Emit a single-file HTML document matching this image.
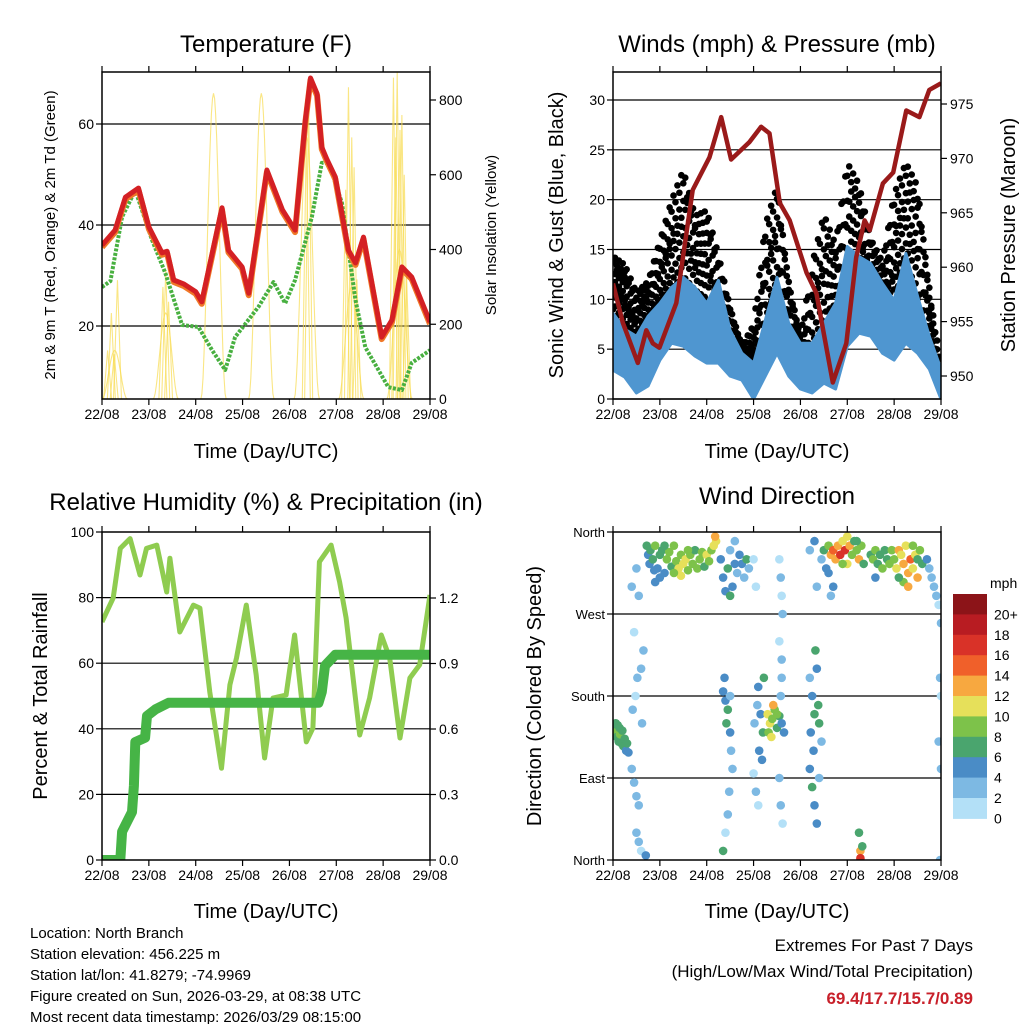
<!DOCTYPE html>
<html><head><meta charset="utf-8">
<style>
html,body{margin:0;padding:0;background:#fff;}
svg{display:block;font-family:"Liberation Sans",sans-serif;}
</style></head>
<body>
<svg id="svg" width="1024" height="1024" viewBox="0 0 1024 1024" xmlns="http://www.w3.org/2000/svg">
<rect width="1024" height="1024" fill="#fff"/>
<text x="266" y="52" font-size="24" text-anchor="middle">Temperature (F)</text>
<text x="777" y="52" font-size="24" text-anchor="middle">Winds (mph) &amp; Pressure (mb)</text>
<text x="266" y="510" font-size="24" text-anchor="middle">Relative Humidity (%) &amp; Precipitation (in)</text>
<text x="777" y="504" font-size="24" text-anchor="middle">Wind Direction</text>

<text x="266" y="458" font-size="20" text-anchor="middle">Time (Day/UTC)</text>
<text x="777" y="458" font-size="20" text-anchor="middle">Time (Day/UTC)</text>
<text x="266" y="918" font-size="20" text-anchor="middle">Time (Day/UTC)</text>
<text x="777" y="918" font-size="20" text-anchor="middle">Time (Day/UTC)</text>

<text transform="translate(55,235) rotate(-90)" font-size="15" text-anchor="middle">2m &amp; 9m T (Red, Orange) &amp; 2m Td (Green)</text>
<text transform="translate(496,235) rotate(-90)" font-size="15" text-anchor="middle">Solar Insolation (Yellow)</text>
<text transform="translate(563,235) rotate(-90)" font-size="20" text-anchor="middle">Sonic Wind &amp; Gust (Blue, Black)</text>
<text transform="translate(1015,235) rotate(-90)" font-size="20" text-anchor="middle">Station Pressure (Maroon)</text>
<text transform="translate(47,696) rotate(-90)" font-size="20" text-anchor="middle">Percent &amp; Total Rainfall</text>
<text transform="translate(541,696) rotate(-90)" font-size="20" text-anchor="middle">Direction (Colored By Speed)</text>

<g font-size="15">
<text x="30" y="938">Location: North Branch</text>
<text x="30" y="959">Station elevation: 456.225 m</text>
<text x="30" y="980">Station lat/lon: 41.8279; -74.9969</text>
<text x="30" y="1001">Figure created on Sun, 2026-03-29, at 08:38 UTC</text>
<text x="30" y="1022">Most recent data timestamp: 2026/03/29 08:15:00</text>
</g>
<g text-anchor="end">
<text x="973" y="951" font-size="17">Extremes For Past 7 Days</text>
<text x="973" y="977" font-size="17">(High/Low/Max Wind/Total Precipitation)</text>
<text x="973" y="1004" font-size="17" font-weight="bold" fill="#c8202a">69.4/17.7/15.7/0.89</text>
</g>
<g id="layer"></g>
</svg>
<script>
// ---------- DATA ----------
const dayLabels = ["22/08","23/08","24/08","25/08","26/08","27/08","28/08","29/08"];
const tempTicks = [20,40,60];
const solarTicks = [0,200,400,600,800];
const windTicks = [0,5,10,15,20,25,30];
const presTicks = [950,955,960,965,970,975];
const rhTicks = [0,20,40,60,80,100];
const precipTicks = [0.0,0.3,0.6,0.9,1.2];
const dirTickLabels = ["North","East","South","West","North"];
const speedLabels = ["20+","18","16","14","12","10","8","6","4","2","0"];
const speedColors = ["#8c1418","#b81c22","#d93228","#f0602a","#f7a840","#e6e05a","#7dc24a","#4aa56e","#4a8cc6","#7db9e3","#b3e0f7"];

const tempTimes = [0,0.28,0.5,0.78,1.0,1.28,1.39,1.53,1.75,2.0,2.13,2.56,2.7,2.99,3.13,3.52,3.85,4.12,4.34,4.45,4.59,4.69,4.8,4.98,5.26,5.41,5.58,5.97,6.19,6.4,6.61,7.0];
const tempValues = [36.0,39,45.5,47.3,39.6,34.5,34.8,29.1,28.3,26.8,24.8,43.4,35,31.7,26.5,50.9,43,39,60.8,69.1,66,55.4,53,49.5,35,32.5,37.6,17.8,21.2,31.7,29.7,20.8];
const dewTimes = [0,0.18,0.43,0.71,1.07,1.35,1.71,2.06,2.35,2.63,2.84,3.34,3.66,3.91,4.12,4.48,4.69,4.84,5.12,5.41,5.62,6.11,6.4,6.61,7.0];
const dewValues = [27.7,28.9,41.6,46.9,37,30.5,20.2,19.8,15.2,11.3,17.8,23.8,28.7,24.5,29.1,41.6,52.3,52.3,44.4,25.1,15.8,7.9,7.3,12.7,15.2];
const solarPeakTimes = [0.27,1.36,2.38,3.4,4.37,5.32,6.35];
const solarPeakValues = [130,230,818,818,700,300,400];
const solarSpikeTimes = [0.12,0.2,0.26,0.33,1.3,1.36,1.42,4.36,4.41,5.2,5.26,5.33,5.38,5.44,6.22,6.27,6.3,6.36,6.4,6.45,6.5];
const solarSpikeValues = [130,230,120,318,300,345,260,700,790,560,834,700,620,320,860,700,875,720,760,600,330];

const presTimes = [0,0.21,0.53,0.71,0.85,0.99,1.35,1.7,2.06,2.31,2.52,2.91,3.16,3.34,3.56,3.77,4.13,4.34,4.69,4.98,5.19,5.37,5.48,5.76,5.98,6.26,6.54,6.75,7.0];
const presValues = [958.5,954.9,951.2,954.2,953,952.6,956.7,967.1,970.1,973.8,969.9,971.5,972.9,972.3,965.9,964.3,959.5,957.6,949.4,953,960.9,964.3,963.4,967.7,968.7,974.4,973.8,976.3,976.9];
const windTimes = [0,0.25,0.5,0.75,1,1.25,1.5,1.75,2,2.25,2.5,2.75,3,3.25,3.5,3.75,4,4.25,4.5,4.75,5,5.25,5.5,5.75,6,6.25,6.5,6.75,7];
const windHigh = [8.6,7,6.3,8.3,9.6,11.2,12.2,11.2,9.6,11.9,6.9,4.6,3.6,7.9,12.2,7.6,5.6,5.6,7.6,9.6,15.3,14.3,13.6,11.6,9.9,14.6,10.3,6.3,3];
const windLow = [2.9,2.2,0.6,1.3,3.9,5.6,5.3,4.3,3.6,3.6,2.3,1.9,0,2.3,4.6,2.3,1,0.6,1.6,1,5.3,6.6,6.3,4.6,3.9,5.6,4.6,3,0];
const gustHigh = [14.9,14.2,11.2,12.2,16.6,21,24.3,19.3,20,15.3,9.6,5.6,7.9,18.6,22.6,12.2,6.6,14.6,19.9,16.3,25,22.6,16.6,14.2,21.6,25,22.6,11.2,3];
const gustLow = [9,7,6,8,9,10,11,10,9,7,5,3,3,7,10,6,3,4,6,8,12,12,11,10,11,12,10,6,0];

const rhTimes = [0,0.24,0.39,0.6,0.81,0.95,1.17,1.38,1.45,1.66,1.95,2.09,2.3,2.55,2.73,2.87,3.08,3.29,3.47,3.65,3.93,4.11,4.36,4.5,4.64,4.89,5.07,5.21,5.5,5.71,5.96,6.14,6.36,6.57,6.78,7.0];
const rhValues = [72.6,79.9,95,98,86.9,95,96,81.7,92,69.5,77.7,76.8,51.2,28,53.4,61.6,77.7,56.4,31.1,49.4,50.3,68.6,36,40.2,90.9,96,84.8,73.8,38.1,49.4,68.6,61.6,37.2,55.5,59.5,80.8];
const precipTimes = [0,0.39,0.43,0.64,0.68,0.71,0.92,0.96,1.14,1.42,4.62,4.69,4.76,4.98,7.0];
const precipValues = [0,0,0.13,0.22,0.34,0.54,0.56,0.66,0.69,0.72,0.72,0.77,0.89,0.94,0.94];

const dirT = [0.02,0.05,0.08,0.1,0.12,0.15,0.18,0.2,0.22,0.25,0.28,0.3,0.33,0.06,0.14,
0.4,0.45,0.5,0.55,0.42,0.48,0.52,0.6,0.65,0.45,0.5,0.55,0.6,0.7,0.62,0.4,0.5,0.55,
0.72,0.75,0.78,0.8,0.85,0.88,0.9,0.95,1.0,1.05,1.1,1.15,1.2,1.25,1.3,1.35,1.4,1.45,1.5,1.55,1.6,1.65,1.7,1.75,1.8,1.85,1.9,1.95,2.0,2.05,2.1,2.15,2.2,2.18,1.45,1.3,1.0,0.9,1.1,1.6,
2.3,2.35,2.4,2.45,2.5,2.55,2.6,2.65,2.7,2.75,2.8,2.85,2.9,2.5,2.6,
2.35,2.4,2.45,2.38,2.42,2.5,2.52,2.55,2.48,2.45,2.4,2.35,2.5,
3.0,3.05,3.1,3.02,3.08,3.1,3.15,3.2,3.12,3.0,3.05,3.18,3.22,
3.3,3.35,3.4,3.45,3.5,3.55,3.6,3.65,3.32,3.42,3.38,3.5,
3.55,3.58,3.6,3.62,3.55,3.6,3.58,3.6,3.55,3.62,3.58,
4.2,4.25,4.3,4.22,4.28,4.2,4.25,4.3,4.35,4.4,4.38,4.32,4.35,4.4,4.45,4.2,4.3,4.35,
4.45,4.5,4.55,4.6,4.65,4.7,4.75,4.8,4.85,4.9,4.95,5.0,5.05,5.1,5.15,5.2,5.25,5.3,5.35,4.6,4.7,4.65,5.0,4.9,
5.5,5.55,5.6,5.65,5.7,5.75,5.8,5.85,5.9,5.95,5.6,5.2,5.25,5.28,5.32,5.28,
6.0,6.05,6.1,6.15,6.2,6.25,6.3,6.35,6.4,6.45,6.5,6.55,6.6,6.2,6.3,6.1,6.4,6.5,
6.7,6.75,6.8,6.85,6.9,6.95,7.0,6.98,7.0,6.95,7.0,6.98];
const dirD = [145,140,135,148,130,138,128,142,125,133,120,128,118,150,145,
100,85,70,60,165,180,200,210,230,250,30,20,10,5,150,300,320,290,
345,335,325,340,330,318,345,320,335,340,315,330,338,322,345,328,320,335,325,330,318,335,325,340,320,330,338,322,335,328,340,345,350,355,312,315,310,305,345,340,
330,310,295,320,340,300,350,315,335,325,310,330,320,290,325,
185,175,165,200,150,140,120,100,75,50,30,10,180,
95,75,60,150,170,190,160,140,120,330,300,110,200,
160,150,155,165,145,158,150,140,140,170,135,160,
330,310,290,270,240,220,180,200,90,40,60,
200,180,160,140,120,100,80,60,40,150,170,230,210,90,130,340,350,300,
330,340,320,345,335,340,330,345,335,350,340,355,345,335,350,340,330,345,325,315,300,290,325,325,
335,330,340,325,335,320,340,330,325,340,310,350,30,10,15,2,
330,320,340,335,325,345,315,330,320,335,310,340,325,305,300,310,345,330,
330,320,310,300,290,280,260,200,180,130,100,0];
const dirS = [7,8,7,6,7,8,6,7,7,6,5,6,5,7,6,
2,3,2,3,2,1,2,3,2,1,2,3,1,5,2,2,3,2,
6,5,4,7,6,4,8,5,7,6,5,8,9,7,8,9,10,9,11,10,9,8,9,7,8,9,8,7,10,8,9,10,11,12,10,8,5,4,6,8,
5,4,5,6,3,4,2,3,4,5,2,6,3,6,5,
4,5,6,5,6,4,3,2,3,2,1,7,3,
1,2,1,2,3,5,5,6,4,1,1,5,6,
10,11,9,8,7,6,5,4,9,12,10,8,
1,2,1,2,1,2,3,2,3,1,2,
3,5,6,5,4,5,6,5,4,7,6,6,5,3,3,2,4,2,
3,6,5,8,12,15,12,13,16,11,17,10,12,9,6,8,12,9,7,4,4,2,10,8,
7,8,9,7,6,8,6,7,8,9,5,7,6,13,7,16,
9,11,13,10,12,11,13,14,10,11,12,9,6,8,12,6,8,7,
4,3,2,3,2,1,2,2,1,2,2,2];

// ---------- HELPERS ----------
const NS = "http://www.w3.org/2000/svg";
const layer = document.getElementById("layer");
function mk(tag, attrs, parent){
  const e = document.createElementNS(NS, tag);
  for (const k in attrs) e.setAttribute(k, attrs[k]);
  (parent||layer).appendChild(e);
  return e;
}
function panel(x0,y0,w,h){
  return {x0,y0,w,h, x:t=>x0+t*w/7};
}
const P1 = panel(102,72,328,327), P2 = panel(613,72,328,327), P3 = panel(102,532,328,328), P4 = panel(613,532,328,328);
function lin(d0,d1,p0,p1){return v=>p0+(v-d0)*(p1-p0)/(d1-d0);}
const yTemp = lin(20,40,326,225), ySolar = lin(0,800,399,100);
const yWind = lin(0,30,399,100), yPres = lin(950,975,376,104);
const yRH = lin(0,100,860,532), yPrec = lin(0,1.2,860,598);
const yDir = lin(0,360,860,532);

function frame(P, name){
  const g = mk("g",{});
  
  
  mk("rect",{x:P.x0,y:P.y0,width:P.w,height:P.h,fill:"none",stroke:"#000","stroke-width":1.5},g);
  dayLabels.forEach((lab,i)=>{
    const x = P.x(i);
    mk("line",{x1:x,x2:x,y1:P.y0+P.h,y2:P.y0+P.h+6,stroke:"#000","stroke-width":1.2},g);
    mk("line",{x1:x,x2:x,y1:P.y0,y2:P.y0-6,stroke:"#000","stroke-width":1.2},g);
    const t = mk("text",{x:x,y:P.y0+P.h+20,"font-size":14,"text-anchor":"middle"},g);
    t.textContent = lab;
    
    
  });
}
function leftTicks(P, ticks, yf, fmt, grid){
  ticks.forEach(v=>{
    const y = yf(v);
    if (grid) mk("line",{x1:P.x0,x2:P.x0+P.w,y1:y,y2:y,stroke:"#000","stroke-width":1.2});
    mk("line",{x1:P.x0-6,x2:P.x0,y1:y,y2:y,stroke:"#000","stroke-width":1.2});
    const t = mk("text",{x:P.x0-8,y:y+5,"font-size":14,"text-anchor":"end"});
    t.textContent = fmt(v);
    
    
  });
}
function rightTicks(P, ticks, yf, fmt){
  ticks.forEach(v=>{
    const y = yf(v);
    mk("line",{x1:P.x0+P.w,x2:P.x0+P.w+6,y1:y,y2:y,stroke:"#000","stroke-width":1.2});
    const t = mk("text",{x:P.x0+P.w+9,y:y+5,"font-size":14,"text-anchor":"start"});
    t.textContent = fmt(v);
    
    
  });
}
function pathFrom(P, ts, vs, yf){
  return ts.map((t,i)=>(i?"L":"M")+P.x(t).toFixed(1)+","+yf(vs[i]).toFixed(1)).join(" ");
}
function clip(id,P){
  const d = mk("clipPath",{id:id});
  mk("rect",{x:P.x0,y:P.y0,width:P.w,height:P.h},d);
}
clip("c1",P1);clip("c2",P2);clip("c3",P3);clip("c4",P4);

// ---------- PANEL 1: Temperature ----------
leftTicks(P1,tempTicks,yTemp,v=>v,true);
rightTicks(P1,solarTicks,ySolar,v=>v);
const g1 = mk("g",{"clip-path":"url(#c1)"});


let sd = "";
solarPeakTimes.forEach((tp,i)=>{
  const hw = 0.27; const n = 24;
  for (let k=0;k<=n;k++){
    const f = -1 + 2*k/n; const t = tp + f*hw;
    const v = solarPeakValues[i]*Math.pow(Math.cos(f*Math.PI/2),2);
    sd += (k?"L":"M")+P1.x(t).toFixed(1)+","+ySolar(v).toFixed(1);
  }
});
const solar = mk("path",{d:sd,fill:"none",stroke:"#f8dc50","stroke-width":1.1,opacity:0.7},g1);


solarSpikeTimes.forEach((t,i)=>{
  const x = P1.x(t);
  const s = mk("path",{d:`M${x-4},${ySolar(0)} L${x},${ySolar(solarSpikeValues[i])} L${x+4},${ySolar(0)}`,fill:"none",stroke:"#f8dc50","stroke-width":1.1,opacity:0.7},g1);
  
  
});
const dew = mk("path",{d:pathFrom(P1,dewTimes,dewValues,yTemp),fill:"none",stroke:"#48b040","stroke-width":4,"stroke-dasharray":"3 1.5","stroke-linejoin":"round"},g1);


const t9 = mk("path",{d:pathFrom(P1,tempTimes,tempValues,yTemp),fill:"none",stroke:"#f07828","stroke-width":6,transform:"translate(0,2)","stroke-linejoin":"round"},g1);


const t2 = mk("path",{d:pathFrom(P1,tempTimes,tempValues,yTemp),fill:"none",stroke:"#d42024","stroke-width":5,"stroke-linejoin":"round"},g1);


frame(P1,"temperature");

// ---------- PANEL 2: Winds ----------
leftTicks(P2,windTicks,yWind,v=>v,true);
rightTicks(P2,presTicks,yPres,v=>v);
const g2 = mk("g",{"clip-path":"url(#c2)"});


for (let i=0;i<windTimes.length-1;i++){
  for (let s=0;s<6;s++){
    const f = s/6; const t = windTimes[i]+f*(windTimes[i+1]-windTimes[i]);
    const hi = gustHigh[i]+f*(gustHigh[i+1]-gustHigh[i]);
    const lo = gustLow[i]+f*(gustLow[i+1]-gustLow[i]);
    for (let k=0;k<5;k++){
      const v = lo + (hi-lo)*((k+ (s%2)*0.5)/5);
      const c = mk("circle",{cx:P2.x(t)+(k%2)*2,cy:yWind(v),r:3.3,fill:"#000"},g2);
      
      
    }
  }
}
let wd = windTimes.map((t,i)=>(i?"L":"M")+P2.x(t).toFixed(1)+","+yWind(windHigh[i]).toFixed(1)).join(" ");
for (let i=windTimes.length-1;i>=0;i--) wd += "L"+P2.x(windTimes[i]).toFixed(1)+","+yWind(windLow[i]).toFixed(1);
const band = mk("path",{d:wd+"Z",fill:"#4f96d0",stroke:"#4f96d0","stroke-width":3,"stroke-linejoin":"round"},g2);


const pres = mk("path",{d:pathFrom(P2,presTimes,presValues,yPres),fill:"none",stroke:"#9a1a1a","stroke-width":4.5,"stroke-linejoin":"round"},g2);


frame(P2,"winds");

// ---------- PANEL 3: RH ----------
leftTicks(P3,rhTicks,yRH,v=>v,false);
[20,40,60,80].forEach(v=>mk("line",{x1:P3.x0,x2:P3.x0+P3.w,y1:yRH(v),y2:yRH(v),stroke:"#000","stroke-width":1.2}));
rightTicks(P3,precipTicks,yPrec,v=>v.toFixed(1));
const g3 = mk("g",{"clip-path":"url(#c3)"});


const rh = mk("path",{d:pathFrom(P3,rhTimes,rhValues,yRH),fill:"none",stroke:"#8fcc50","stroke-width":5,"stroke-linejoin":"round"},g3);


const pr = mk("path",{d:pathFrom(P3,precipTimes,precipValues,yPrec),fill:"none",stroke:"#46b446","stroke-width":10,"stroke-linejoin":"round","stroke-linecap":"round"},g3);


frame(P3,"humidity");

// ---------- PANEL 4: Wind direction ----------
[0,90,180,270,360].forEach((d,i)=>{
  const y = yDir(d);
  if (i>0 && i<4) mk("line",{x1:P4.x0,x2:P4.x0+P4.w,y1:y,y2:y,stroke:"#000","stroke-width":1.2});
  mk("line",{x1:P4.x0-6,x2:P4.x0,y1:y,y2:y,stroke:"#000","stroke-width":1.2});
  const t = mk("text",{x:P4.x0-8,y:y+5,"font-size":13,"text-anchor":"end"});
  t.textContent = dirTickLabels[i];
  
  
});
const g4 = mk("g",{"clip-path":"url(#c4)"});


function speedColor(s){
  return speedColors[10-Math.min(10,Math.floor(s/2))];
}
dirT.forEach((t,i)=>{
  const c = mk("circle",{cx:P4.x(t),cy:yDir(dirD[i]),r:4.3,fill:speedColor(dirS[i])},g4);
  
  
});
frame(P4,"wind-direction");
const cb = mk("g",{});


const cbTop = 594, cbH = 20.4;
speedColors.forEach((col,i)=>{
  mk("rect",{x:953,y:cbTop+i*cbH,width:34,height:cbH+0.5,fill:col},cb);
});
speedLabels.forEach((lab,i)=>{
  const t = mk("text",{x:994,y:cbTop+i*cbH+cbH+5,"font-size":14,"text-anchor":"start"},cb);
  t.textContent = lab;
  
  
});
const mph = mk("text",{x:990,y:588,"font-size":14},cb);
mph.textContent = "mph";


</script>
</body></html>
